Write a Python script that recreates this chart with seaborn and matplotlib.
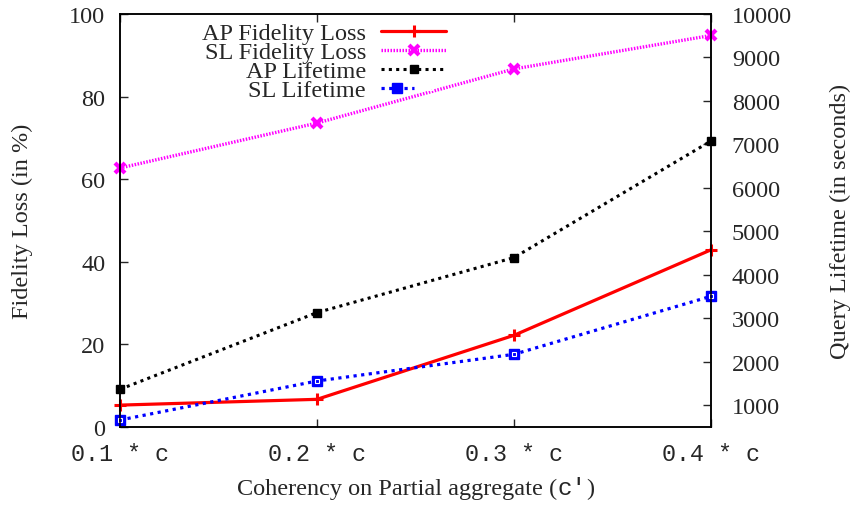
import numpy as np
import pandas as pd
import matplotlib
matplotlib.use("Agg")
import matplotlib.pyplot as plt
import seaborn as sns
from matplotlib.offsetbox import TextArea, HPacker, AnchoredOffsetbox
from matplotlib.legend_handler import HandlerTuple

# data
coherency = [0.1, 0.2, 0.3, 0.4]
tick_labels = ["0.1 * c", "0.2 * c", "0.3 * c", "0.4 * c"]
ap_fidelity_loss = [5.3, 6.7, 22.2, 42.9]
sl_fidelity_loss = [62.7, 73.6, 86.7, 94.8]
ap_lifetime = [1367, 3132, 4397, 7079]
sl_lifetime = [661, 1558, 2172, 3507]

sns.set_style("ticks")
plt.rcParams["font.family"] = ["Liberation Serif", "DejaVu Serif"]
FS = 17.5

W, H = 853, 506
fig = plt.figure(figsize=(W / 100, H / 100), dpi=100)
ax = fig.add_axes([120 / W, 1 - 428 / H, (711 - 120) / W, (428 - 15) / H])
ax2 = ax.twinx()

df = pd.DataFrame({
    "x": coherency,
    "ap_fid": ap_fidelity_loss,
    "sl_fid": sl_fidelity_loss,
    "ap_life": ap_lifetime,
    "sl_life": sl_lifetime,
})

sns.lineplot(data=df, x="x", y="ap_fid", ax=ax, color="#ff0000", lw=2.3,
             marker="+", markersize=9, markeredgewidth=2.2,
             markeredgecolor="#ff0000", clip_on=False,
             label="AP Fidelity Loss")
sns.lineplot(data=df, x="x", y="sl_fid", ax=ax, color="#ff00ff", lw=2.4,
             linestyle=(0, (0.45, 0.45)), marker="x", markersize=7,
             markeredgewidth=3, markeredgecolor="#ff00ff", clip_on=False,
             label="SL Fidelity Loss")
sns.lineplot(data=df, x="x", y="ap_life", ax=ax2, color="black", lw=2.2,
             linestyle=(0, (1, 1.4)), marker="s", markersize=6,
             markeredgewidth=1, markerfacecolor="black",
             markeredgecolor="black", clip_on=False, label="AP Lifetime")
sns.lineplot(data=df, x="x", y="sl_life", ax=ax2, color="#0000ff", lw=2.3,
             linestyle=(0, (1, 1.4)), marker="s", markersize=7,
             markeredgewidth=1, markerfacecolor="#0000ff",
             markeredgecolor="#0000ff", clip_on=False, label="SL Lifetime")
# small white inner box of the gnuplot point style
inner = ax2.plot(df["x"], df["sl_life"], ls="none", marker="s", markersize=3,
                 markerfacecolor="none", markeredgecolor="white",
                 markeredgewidth=0.8, clip_on=False)[0]

for a in (ax, ax2):
    if a.get_legend() is not None:
        a.get_legend().remove()

ax.set_xlim(0.1, 0.4)
ax.set_ylim(0, 100)
ax.set_yticks([0, 20, 40, 60, 80, 100])
ax2.set_ylim(500, 10000)
ax2.set_yticks(np.arange(1000, 10001, 1000))
ax.set_xticks(coherency)
ax.set_xticklabels(tick_labels, family="Liberation Mono", fontsize=16.8)

ax.tick_params(axis="y", direction="in", length=6, width=1, labelsize=FS,
               pad=10.5, right=False)
ax.tick_params(axis="x", direction="in", length=6, width=1, top=True, pad=11)
ax2.tick_params(axis="y", direction="in", length=6, width=1, labelsize=FS,
                pad=15)

for a in (ax, ax2):
    for s in a.spines.values():
        s.set_linewidth(1.1)
        s.set_color("black")
        s.set_visible(True)

ax.set_xlabel("")
ax.set_ylabel("Fidelity Loss (in %)", fontsize=FS)
ax.yaxis.set_label_coords((33 - 120) / 591, 0.5)
ax2.set_ylabel("Query Lifetime (in seconds)", fontsize=FS)
ax2.yaxis.set_label_coords((830 - 120) / 591, 0.5)

# x label: serif text with the c' part in typewriter font
parts = [
    TextArea("Coherency on Partial aggregate (",
             textprops=dict(family="Liberation Serif", size=FS)),
    TextArea("c'", textprops=dict(family="Liberation Mono", size=FS)),
    TextArea(")", textprops=dict(family="Liberation Serif", size=FS)),
]
box = HPacker(children=parts, align="baseline", pad=0, sep=0)
anchored = AnchoredOffsetbox(loc="lower center", child=box, pad=0,
                             borderpad=0, frameon=False,
                             bbox_to_anchor=(416 / W, 6 / H),
                             bbox_transform=fig.transFigure)
fig.add_artist(anchored)

h1, l1 = ax.get_legend_handles_labels()
h2, l2 = ax2.get_legend_handles_labels()
handles = h1 + h2
handles[-1] = (handles[-1], inner)
leg = ax2.legend(handles, l1 + l2, loc="upper right",
                 bbox_to_anchor=(446 / W, 1 - 23 / H),
                 bbox_transform=fig.transFigure, frameon=False,
                 markerfirst=False, fontsize=FS, handlelength=2.67,
                 handletextpad=0.62, labelspacing=-0.12, borderpad=0,
                 borderaxespad=0, numpoints=1,
                 handler_map={tuple: HandlerTuple(ndivide=None)})

fig.savefig("out.png", dpi=100)
